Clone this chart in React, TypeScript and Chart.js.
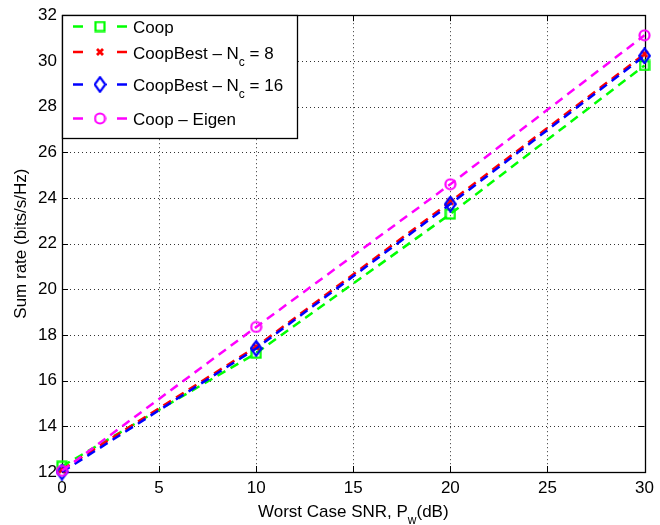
import React, { useEffect, useRef } from 'react';
import { Chart, registerables } from 'chart.js';

Chart.register(...registerables);

const X_VALUES = [0, 10, 20, 30];
const COOP = [12.25, 17.2, 23.3, 29.8];
const COOP_BEST_8 = [12.1, 17.48, 23.83, 30.3];
const COOP_BEST_16 = [12.0, 17.41, 23.73, 30.22];
const COOP_EIGEN = [12.05, 18.35, 24.6, 31.12];

const SERIES_LABELS = ['Coop', 'CoopBest – N_c = 8', 'CoopBest – N_c = 16', 'Coop – Eigen'];
const SERIES_COLORS = ['#00ff00', '#ff0000', '#0000ff', '#ff00ff'];
const SERIES_MARKERS = ['square', 'x', 'diamond', 'circle'];

const X_TITLE = 'Worst Case SNR, P_w(dB)';
const Y_TITLE = 'Sum rate (bits/s/Hz)';

const X_MIN = 0, X_MAX = 30, X_STEP = 5;
const Y_MIN = 12, Y_MAX = 32, Y_STEP = 2;

const FONT = "'Liberation Sans', Arial, Helvetica, sans-serif";
const FS = 17;

function makeMarker(kind: string, color: string): HTMLCanvasElement {
  const c = document.createElement('canvas');
  let w = 12, h = 12;
  if (kind === 'diamond') { w = 13; h = 17; }
  if (kind === 'x') { w = 10; h = 10; }
  if (kind === 'circle') { w = 13; h = 13; }
  c.width = w; c.height = h;
  const g = c.getContext('2d')!;
  g.strokeStyle = color;
  g.lineWidth = 2.2;
  if (kind === 'square') {
    g.strokeRect(1.5, 1.5, w - 3, h - 3);
  } else if (kind === 'x') {
    g.lineWidth = 2.8;
    g.beginPath();
    g.moveTo(2, 2); g.lineTo(w - 2, h - 2);
    g.moveTo(w - 2, 2); g.lineTo(2, h - 2);
    g.stroke();
  } else if (kind === 'diamond') {
    g.beginPath();
    g.moveTo(w / 2, 1.2); g.lineTo(w - 1.2, h / 2); g.lineTo(w / 2, h - 1.2); g.lineTo(1.2, h / 2);
    g.closePath();
    g.stroke();
  } else {
    g.beginPath();
    g.arc(w / 2, h / 2, w / 2 - 1.5, 0, Math.PI * 2);
    g.stroke();
  }
  return c;
}

function parts(text: string) {
  const out: { t: string; sub: boolean }[] = [];
  const re = /_(\w)/g;
  let last = 0; let m;
  while ((m = re.exec(text))) {
    if (m.index > last) out.push({ t: text.slice(last, m.index), sub: false });
    out.push({ t: m[1], sub: true });
    last = m.index + m[0].length;
  }
  if (last < text.length) out.push({ t: text.slice(last), sub: false });
  return out;
}

function richWidth(ctx: CanvasRenderingContext2D, text: string, size: number) {
  let w = 0;
  for (const p of parts(text)) {
    ctx.font = `${p.sub ? Math.round(size * 0.72) : size}px ${FONT}`;
    w += ctx.measureText(p.t).width;
  }
  return w;
}

function drawRich(ctx: CanvasRenderingContext2D, text: string, x: number, y: number, size: number) {
  ctx.textAlign = 'left';
  ctx.textBaseline = 'alphabetic';
  let cx = x;
  for (const p of parts(text)) {
    ctx.font = `${p.sub ? Math.round(size * 0.72) : size}px ${FONT}`;
    ctx.fillText(p.t, cx, p.sub ? y + size * 0.42 : y);
    cx += ctx.measureText(p.t).width;
  }
}

export default function App() {
  const ref = useRef<HTMLCanvasElement>(null);

  useEffect(() => {
    const markers = SERIES_MARKERS.map((k, i) => makeMarker(k, SERIES_COLORS[i]));
    const seriesData = [COOP, COOP_BEST_8, COOP_BEST_16, COOP_EIGEN];

    const framePlugin = {
      id: 'matlabFrame',
      beforeDatasetsDraw(chart: any) {
        const { ctx, chartArea, scales } = chart;
        const { left, right, top, bottom } = chartArea;
        const xs = scales.x, ys = scales.y;
        ctx.save();
        ctx.strokeStyle = '#333';
        ctx.lineWidth = 1;
        ctx.setLineDash([1, 3]);
        for (let v = X_MIN + X_STEP; v < X_MAX; v += X_STEP) {
          const px = Math.round(xs.getPixelForValue(v)) + 0.5;
          ctx.beginPath(); ctx.moveTo(px, top); ctx.lineTo(px, bottom); ctx.stroke();
        }
        for (let v = Y_MIN + Y_STEP; v < Y_MAX; v += Y_STEP) {
          const py = Math.round(ys.getPixelForValue(v)) + 0.5;
          ctx.beginPath(); ctx.moveTo(left, py); ctx.lineTo(right, py); ctx.stroke();
        }
        ctx.setLineDash([]);
        ctx.strokeStyle = '#000';
        ctx.lineWidth = 1.3;
        ctx.strokeRect(Math.round(left) + 0.5, Math.round(top) + 0.5, Math.round(right - left), Math.round(bottom - top));
        const tl = 6;
        ctx.lineWidth = 1;
        for (let v = X_MIN; v <= X_MAX; v += X_STEP) {
          const px = Math.round(xs.getPixelForValue(v)) + 0.5;
          ctx.beginPath();
          ctx.moveTo(px, bottom); ctx.lineTo(px, bottom - tl);
          ctx.moveTo(px, top); ctx.lineTo(px, top + tl);
          ctx.stroke();
        }
        for (let v = Y_MIN; v <= Y_MAX; v += Y_STEP) {
          const py = Math.round(ys.getPixelForValue(v)) + 0.5;
          ctx.beginPath();
          ctx.moveTo(left, py); ctx.lineTo(left + tl, py);
          ctx.moveTo(right, py); ctx.lineTo(right - tl, py);
          ctx.stroke();
        }
        ctx.restore();
      },
      afterDatasetsDraw(chart: any) {
        const { ctx, chartArea } = chart;
        const { left, right, top, bottom } = chartArea;
        ctx.save();
        const lx = Math.round(left) + 0.5, ly = Math.round(top) + 0.5;
        const lw = 235, lh = 123;
        ctx.fillStyle = '#fff';
        ctx.fillRect(lx, ly, lw, lh);
        ctx.strokeStyle = '#000';
        ctx.lineWidth = 1.3;
        ctx.strokeRect(lx, ly, lw, lh);
        const baselines = [33, 58.5, 91, 125];
        SERIES_LABELS.forEach((lab, i) => {
          const by = baselines[i];
          const yy = by - 6.5;
          ctx.strokeStyle = SERIES_COLORS[i];
          ctx.lineWidth = 2.5;
          ctx.beginPath();
          ctx.moveTo(left + 11, yy); ctx.lineTo(left + 21, yy);
          ctx.moveTo(left + 55, yy); ctx.lineTo(left + 65, yy);
          ctx.stroke();
          const mk = markers[i];
          ctx.drawImage(mk, left + 38 - mk.width / 2, yy - mk.height / 2);
          ctx.fillStyle = '#000';
          drawRich(ctx, lab, left + 71, by, FS);
        });
        ctx.fillStyle = '#000';
        const xw = richWidth(ctx, X_TITLE, FS);
        drawRich(ctx, X_TITLE, (left + right) / 2 - xw / 2, 517, FS);
        ctx.save();
        ctx.translate(26, (top + bottom) / 2);
        ctx.rotate(-Math.PI / 2);
        ctx.font = `${FS}px ${FONT}`;
        ctx.textAlign = 'center';
        ctx.textBaseline = 'alphabetic';
        ctx.fillText(Y_TITLE, 0, 0);
        ctx.restore();
        ctx.restore();
      },
    };

    const chart = new Chart(ref.current!, {
      type: 'line',
      data: {
        datasets: SERIES_LABELS.map((lab, i) => ({
          label: lab,
          data: X_VALUES.map((x, j) => ({ x, y: seriesData[i][j] })),
          borderColor: SERIES_COLORS[i],
          backgroundColor: SERIES_COLORS[i],
          borderWidth: 2.5,
          borderDash: [9, 6],
          pointStyle: markers[i] as any,
          pointRadius: 5,
          pointHoverRadius: 5,
          tension: 0,
          fill: false,
          clip: false as any,
          order: 3 - i,
        })),
      },
      options: {
        animation: false,
        responsive: false,
        maintainAspectRatio: false,
        events: [],
        layout: { padding: { top: 11, right: 11, left: 0, bottom: 0 } },
        plugins: {
          legend: { display: false },
          tooltip: { enabled: false },
          title: { display: false },
        },
        scales: {
          x: {
            type: 'linear',
            min: X_MIN,
            max: X_MAX,
            ticks: { stepSize: X_STEP, color: '#000', font: { family: FONT, size: FS }, padding: 6, maxRotation: 0 },
            grid: { display: false, drawTicks: false },
            border: { display: false },
            afterFit: (s: any) => { s.height = 53; },
          },
          y: {
            type: 'linear',
            min: Y_MIN,
            max: Y_MAX,
            ticks: { stepSize: Y_STEP, color: '#000', font: { family: FONT, size: FS }, padding: 5 },
            grid: { display: false, drawTicks: false },
            border: { display: false },
            afterFit: (s: any) => { s.width = 62; },
          },
        },
      },
      plugins: [framePlugin],
    });
    return () => chart.destroy();
  }, []);

  return (
    <div style={{ position: 'fixed', left: 0, top: 0, width: 660, height: 525, background: '#fff' }}>
      <canvas ref={ref} width={660} height={525} style={{ display: 'block' }} />
    </div>
  );
}
